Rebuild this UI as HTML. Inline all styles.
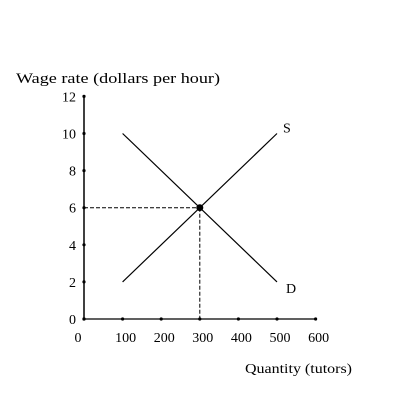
<!DOCTYPE html>
<html><head><style>
html,body{margin:0;padding:0;background:#fff;}
svg text{font-family:"Liberation Serif",serif;fill:#000;}
</style></head><body>
<svg width="400" height="400" xmlns="http://www.w3.org/2000/svg">
<g id="g"></g>
</svg>
<script>
const xTicks=[0,100,200,300,400,500,600];
const yTicks=[0,2,4,6,8,10,12];
const supplyQ=[100,500];
const supplyP=[2,10];
const demandQ=[100,500];
const demandP=[10,2];
const eqQ=[300];
const eqP=[6];
const X=v=>84+v*0.386;
const Y=v=>319-v*18.55;
const g=document.getElementById('g');
const NS='http://www.w3.org/2000/svg';
function mk(t,a,txt){const e=document.createElementNS(NS,t);for(const k in a)e.setAttribute(k,a[k]);if(txt!==undefined)e.textContent=txt;g.appendChild(e);return e;}
let e;
e=mk('line',{x1:X(0),y1:Y(0),x2:X(0),y2:Y(12),stroke:'#000','stroke-width':1.5});


e=mk('line',{x1:X(0),y1:Y(0),x2:X(600)+1,y2:Y(0),stroke:'#000','stroke-width':1.2});


yTicks.forEach(v=>{
 e=mk('circle',{cx:X(0),cy:Y(v),r:1.6,fill:'#000'});
 
 
 e=mk('text',{x:76,y:Y(v)+5,'text-anchor':'end','font-size':14},v);
 
 
});
xTicks.forEach(v=>{
 e=mk('circle',{cx:X(v),cy:Y(0),r:1.6,fill:'#000'});
 
 
 e=mk('text',{x:X(v)+(v==0?-6:3),y:342,'text-anchor':'middle','font-size':14},v);
 
 
});
e=mk('line',{x1:X(0),y1:Y(eqP[0]),x2:X(eqQ[0]),y2:Y(eqP[0]),stroke:'#000','stroke-width':1,'stroke-dasharray':'4,2'});


e=mk('line',{x1:X(eqQ[0]),y1:Y(eqP[0]),x2:X(eqQ[0]),y2:Y(0),stroke:'#000','stroke-width':1,'stroke-dasharray':'4,2'});


e=mk('line',{x1:X(supplyQ[0]),y1:Y(supplyP[0]),x2:X(supplyQ[1]),y2:Y(supplyP[1]),stroke:'#000','stroke-width':1.2});


e=mk('line',{x1:X(demandQ[0]),y1:Y(demandP[0]),x2:X(demandQ[1]),y2:Y(demandP[1]),stroke:'#000','stroke-width':1.2});


e=mk('circle',{cx:X(eqQ[0]),cy:Y(eqP[0]),r:3.5,fill:'#000'});


e=mk('text',{x:X(supplyQ[1])+6,y:Y(supplyP[1])-1,'font-size':14},'S');


e=mk('text',{x:X(demandQ[1])+9,y:Y(demandP[1])+11,'font-size':14},'D');


e=mk('text',{x:16,y:83,'font-size':15,textLength:204,lengthAdjust:'spacingAndGlyphs'},'Wage rate (dollars per hour)');


e=mk('text',{x:245,y:373,'font-size':14,textLength:107,lengthAdjust:'spacingAndGlyphs'},'Quantity (tutors)');


</script>
</body></html>
